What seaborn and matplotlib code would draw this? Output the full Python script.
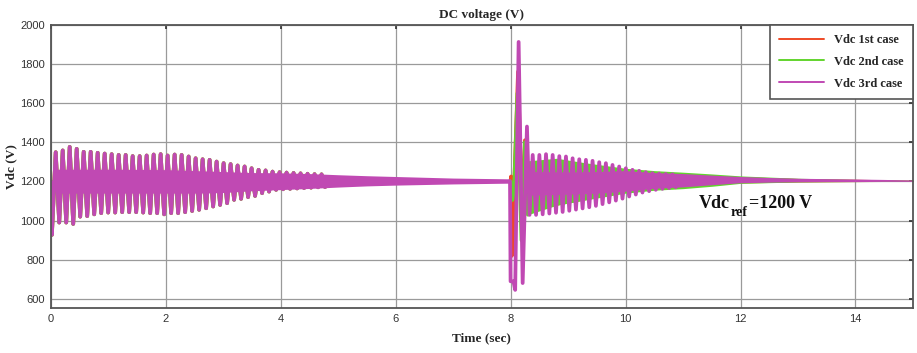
import numpy as np
import pandas as pd
import matplotlib
matplotlib.use("Agg")
import matplotlib.pyplot as plt
from matplotlib.transforms import IdentityTransform
import seaborn as sns

# ---------------- data ----------------
case_labels = ["Vdc 1st case", "Vdc 2nd case", "Vdc 3rd case"]
case_colors = ["#ee4a26", "#62d42e", "#c049b3"]

x_ticks = [0, 2, 4, 6, 8, 10, 12, 14]
y_ticks = [600, 800, 1000, 1200, 1400, 1600, 1800, 2000]

# start-up (0-8 s): the three cases coincide in the picture
seg1_head_t = [0.0, 0.02]
seg1_head_v = [1200, 927]
seg1_first_peak_t = 0.087
seg1_period = 0.1217
seg1_peaks = [1349, 1358, 1376, 1366, 1351, 1351, 1346, 1342, 1339, 1335,
              1335, 1329, 1329, 1332, 1337, 1339, 1332, 1337, 1335, 1327,
              1318, 1313, 1310, 1301, 1293, 1288, 1281, 1276, 1267, 1259,
              1256, 1250, 1247, 1245, 1243, 1241, 1239, 1237, 1236]
seg1_troughs = [990, 990, 983, 1020, 1023, 1032, 1038, 1041, 1041, 1043,
                1043, 1043, 1041, 1038, 1038, 1032, 1038, 1038, 1043, 1049,
                1055, 1063, 1072, 1080, 1089, 1106, 1111, 1120, 1126, 1140,
                1148, 1157, 1160, 1162, 1164, 1166, 1168, 1170, 1171]
# dense ripple band around 1200 V (0-8 s)
seg1_band_t = [0.1, 1.0, 2.0, 2.5, 3.0, 3.5, 4.0, 4.5, 5.0, 5.5, 6.0, 6.5, 7.0, 7.5, 8.0]
seg1_band_hi = [1262, 1262, 1260, 1255, 1250, 1245, 1244, 1240, 1234, 1229, 1225, 1221, 1217, 1215, 1213]
seg1_band_lo = [1140, 1140, 1140, 1140, 1143, 1152, 1158, 1164, 1171, 1177, 1181, 1184, 1187, 1189, 1191]

# disturbance at 8 s
case1_dist_t = [7.99, 8.0, 8.008, 8.02, 8.04, 8.06, 8.13, 8.2, 8.25, 8.3]
case1_dist_v = [1200, 1200, 1225, 820, 840, 1150, 1760, 1010, 1410, 1040]
case2_dist_t = [7.99, 8.0, 8.03, 8.06, 8.12, 8.19, 8.25, 8.3]
case2_dist_v = [1200, 1200, 1105, 1150, 1650, 900, 1400, 1030]
case3_dist_t = [7.99, 8.0, 8.05, 8.08, 8.14, 8.21, 8.285, 8.33]
case3_dist_v = [1200, 690, 690, 646, 1912, 681, 1480, 1029]

case3_first_peak_t = 8.385
case3_period = 0.1157
case3_peaks = [1335, 1335, 1339, 1335, 1329, 1327, 1318, 1313, 1310, 1305, 1298,
               1293, 1284, 1276, 1267, 1259, 1254, 1247, 1242, 1240, 1238, 1236]
case3_troughs = [1029, 1032, 1036, 1040, 1044, 1050, 1056, 1062, 1068, 1075, 1084,
                 1093, 1102, 1112, 1123, 1133, 1143, 1150, 1157, 1162, 1166, 1170]
case3_band_t = [8.33, 9.0, 9.5, 10.0, 10.5, 11.0, 11.5, 12.0, 12.5, 13.0, 13.5, 14.0, 14.5, 15.0]
case3_band_hi = [1250, 1248, 1250, 1255, 1245, 1240, 1232, 1225, 1220, 1216, 1214, 1212, 1210, 1207]
case3_band_lo = [1130, 1135, 1140, 1150, 1165, 1172, 1183, 1193, 1196, 1198, 1199, 1199, 1200, 1200]

case2_band_t = [8.3, 8.8, 9.3, 10.0, 10.5, 11.0, 11.5, 12.0, 13.0, 14.0, 15.0]
case2_band_hi = [1305, 1318, 1295, 1267, 1255, 1247, 1238, 1228, 1216, 1210, 1206]
case2_band_lo = [1030, 1078, 1105, 1140, 1155, 1163, 1175, 1190, 1197, 1199, 1200]

case1_band_t = [8.3, 9.0, 10.0, 11.0, 12.0, 13.0, 14.0, 15.0]
case1_band_hi = [1290, 1280, 1255, 1238, 1224, 1215, 1211, 1206]
case1_band_lo = [1050, 1090, 1145, 1172, 1192, 1197, 1199, 1200]


def alternate(first_t, period, peaks, troughs):
    """place read extrema (peak, trough, peak, ...) on the time axis"""
    t, v = [], []
    for k, (p, q) in enumerate(zip(peaks, troughs)):
        t += [first_t + k * period, first_t + (k + 0.5) * period]
        v += [p, q]
    return t, v


s1_t, s1_v = alternate(seg1_first_peak_t, seg1_period, seg1_peaks, seg1_troughs)
s1_t = seg1_head_t + s1_t
s1_v = seg1_head_v + s1_v
c3_t, c3_v = alternate(case3_first_peak_t, case3_period, case3_peaks, case3_troughs)
c3_t = case3_dist_t + c3_t
c3_v = case3_dist_v + c3_v

# ---------------- figure ----------------
sns.set_theme(style="white")
plt.rcParams["font.family"] = ["Liberation Sans", "DejaVu Sans"]

fig = plt.figure(figsize=(9.17, 3.53), dpi=100)
ax = fig.add_axes([0.0553, 0.1266, 0.9403, 0.8034])

lw = 2.7
serif_bold = dict(family="Liberation Serif", weight="bold")

# red (1st case)
ax.fill_between(case1_band_t, case1_band_lo, case1_band_hi, color=case_colors[0], lw=0, zorder=1.4)
sns.lineplot(x=s1_t, y=s1_v, color=case_colors[0], lw=lw, estimator=None, sort=False,
             ax=ax, zorder=2.0, label=case_labels[0])
sns.lineplot(x=case1_dist_t, y=case1_dist_v, color=case_colors[0], lw=lw, estimator=None,
             sort=False, ax=ax, zorder=2.0)
# green (2nd case)
ax.fill_between(case2_band_t, case2_band_lo, case2_band_hi, color=case_colors[1], lw=0, zorder=1.5)
sns.lineplot(x=s1_t, y=s1_v, color=case_colors[1], lw=lw, estimator=None, sort=False,
             ax=ax, zorder=2.1, label=case_labels[1])
sns.lineplot(x=case2_dist_t, y=case2_dist_v, color=case_colors[1], lw=lw, estimator=None,
             sort=False, ax=ax, zorder=2.1)
# magenta (3rd case)
ax.fill_between(seg1_band_t, seg1_band_lo, seg1_band_hi, color=case_colors[2], lw=0, zorder=2.15)
ax.fill_between(case3_band_t, case3_band_lo, case3_band_hi, color=case_colors[2], lw=0, zorder=2.15)
sns.lineplot(x=s1_t, y=s1_v, color=case_colors[2], lw=lw, estimator=None, sort=False,
             ax=ax, zorder=2.2, label=case_labels[2])
sns.lineplot(x=c3_t, y=c3_v, color=case_colors[2], lw=lw, estimator=None, sort=False,
             ax=ax, zorder=2.2)

ax.set_xlim(0, 15)
ax.set_ylim(552, 2000)
ax.set_xticks(x_ticks)
ax.set_yticks(y_ticks)
ax.tick_params(axis="both", labelsize=8, colors="#333333", direction="in", length=3,
               top=True, right=True, pad=4)
ax.grid(True, color="#9a9a9a", lw=0.9)
for sp in ax.spines.values():
    sp.set_color("#555555")
    sp.set_linewidth(1.3)

ax.set_title("DC voltage (V)", fontsize=9.5, pad=5, **serif_bold)
ax.set_xlabel("Time (sec)", fontsize=9.5, labelpad=6, **serif_bold)
ax.set_ylabel("Vdc (V)", fontsize=9.5, labelpad=2, **serif_bold)

leg = ax.legend(loc="upper right", borderaxespad=0, fancybox=False, framealpha=1,
                edgecolor="#555555", handlelength=3.6, labelspacing=0.78,
                prop=dict(family="Liberation Serif", weight="bold", size=9),
                borderpad=0.75)
leg.get_frame().set_linewidth(1.2)
for h in leg.get_lines():
    h.set_linewidth(1.4)

# Vdc_ref annotation: big "Vdc", lowered "ref", then "=1200 V"
ref_x, ref_y = 11.27, 1063
t1 = ax.text(ref_x, ref_y, "Vdc", fontsize=13, va="baseline", ha="left",
             color="#111111", zorder=5, **serif_bold)
fig.canvas.draw()
renderer = fig.canvas.get_renderer()
bb1 = t1.get_window_extent(renderer)
base_x, base_y = ax.transData.transform((ref_x, ref_y))
t2 = ax.text(bb1.x1 + 1, base_y - 8, "ref", fontsize=10, va="baseline", ha="left",
             color="#111111", zorder=5, transform=IdentityTransform(), **serif_bold)
bb2 = t2.get_window_extent(renderer)
ax.text(bb2.x1 + 1, base_y, "=1200 V", fontsize=13, va="baseline", ha="left",
        color="#111111", zorder=5, transform=IdentityTransform(), **serif_bold)

fig.savefig("out.png", dpi=100)
